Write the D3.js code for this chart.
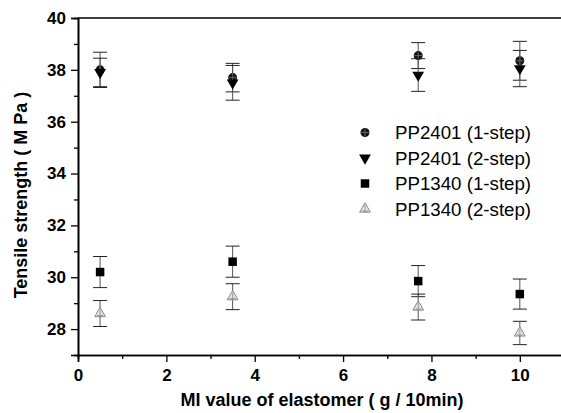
<!DOCTYPE html>
<html>
<head>
<meta charset="utf-8">
<script src="https://cdn.jsdelivr.net/npm/d3@7"></script>
<style>
  body { margin: 0; background: #fff; }
  svg { display: block; }
</style>
</head>
<body>
<svg id="chart" width="561" height="413"></svg>
<script>
// MI value of elastomer (g/10min)
var mi = [0.5, 3.5, 7.7, 10];

var names = ["PP2401 (1-step)", "PP2401 (2-step)", "PP1340 (1-step)", "PP1340 (2-step)"];

// tensile strength (MPa) and error bar half-widths
var pp2401_1 = [38.0, 37.7, 38.55, 38.35];
var pp2401_1_err = [0.68, 0.55, 0.5, 0.75];
var pp2401_2 = [37.9, 37.5, 37.8, 38.05];
var pp2401_2_err = [0.55, 0.67, 0.63, 0.7];
var pp1340_1 = [30.2, 30.6, 29.85, 29.35];
var pp1340_1_err = [0.6, 0.6, 0.6, 0.58];
var pp1340_2 = [28.6, 29.25, 28.85, 27.85];
var pp1340_2_err = [0.5, 0.5, 0.5, 0.45];

var xTicks = [0, 2, 4, 6, 8, 10];
var yTicks = [28, 30, 32, 34, 36, 38, 40];

var svg = d3.select("#chart"),
    mLeft = 78, mTop = 18, mRight = 564, mBottom = 355;

var x = d3.scaleLinear().domain([0, 11]).range([mLeft, mRight]);
var y = d3.scaleLinear().domain([27, 40]).range([mBottom, mTop]);

var series = [
  {name: names[0], v: pp2401_1, e: pp2401_1_err, shape: "circ"},
  {name: names[1], v: pp2401_2, e: pp2401_2_err, shape: "down"},
  {name: names[2], v: pp1340_1, e: pp1340_1_err, shape: "sq"},
  {name: names[3], v: pp1340_2, e: pp1340_2_err, shape: "up"}
];

var font = "Liberation Sans, Arial, sans-serif";

// axes
svg.append("g")
  .attr("transform", "translate(0," + mBottom + ")")
  .call(d3.axisBottom(x).tickValues(xTicks).tickSize(7).tickPadding(7).tickFormat(d3.format("d")));
svg.append("g")
  .attr("transform", "translate(0," + mBottom + ")")
  .call(d3.axisBottom(x).tickValues([1, 3, 5, 7, 9]).tickSize(4).tickFormat(""));

svg.append("g")
  .attr("transform", "translate(" + mLeft + ",0)")
  .call(d3.axisLeft(y).tickValues(yTicks).tickSize(7).tickPadding(5).tickFormat(d3.format("d")));
svg.append("g")
  .attr("transform", "translate(" + mLeft + ",0)")
  .call(d3.axisLeft(y).tickValues([29, 31, 33, 35, 37, 39]).tickSize(4).tickFormat(""));

svg.selectAll(".domain").style("stroke", "#000").style("stroke-width", 1.6);
svg.selectAll(".tick line").style("stroke", "#000").style("stroke-width", 1.3);
svg.selectAll(".tick text")
  .style("font-family", font)
  .style("font-weight", "bold")
  .style("font-size", "17px")
  .style("fill", "#000");

// top frame line
svg.append("line")
  .attr("x1", mLeft).attr("x2", 561)
  .attr("y1", y(40)).attr("y2", y(40))
  .style("stroke", "#000").style("stroke-width", 1.6);

// axis titles
svg.append("text")
  .attr("x", 322).attr("y", 406)
  .attr("text-anchor", "middle")
  .style("font-family", font)
  .style("font-weight", "bold")
  .style("font-size", "18px")
  .text("MI value of elastomer ( g / 10min)");

svg.append("text")
  .attr("transform", "translate(27,195) rotate(-90)")
  .attr("text-anchor", "middle")
  .style("font-family", font)
  .style("font-weight", "bold")
  .style("font-size", "18px")
  .text("Tensile strength ( M Pa )");

function drawMarker(g, shape) {
  if (shape == "circ") {
    g.append("circle").attr("r", 4.5).style("fill", "#111");
    g.append("path").attr("d", "M-4,0H4M0,-4V4").style("stroke", "#777").style("stroke-width", 0.8);
  } else if (shape == "down") {
    g.append("path").attr("d", d3.symbol().type(d3.symbolTriangle).size(60)).attr("transform", "rotate(180)").style("fill", "#000");
  } else if (shape == "sq") {
    g.append("path").attr("d", d3.symbol().type(d3.symbolSquare).size(72)).style("fill", "#000");
  } else {
    g.append("path").attr("d", d3.symbol().type(d3.symbolTriangle).size(50))
      .style("fill", "#e4e4e4").style("stroke", "#888").style("stroke-width", 1);
    g.append("path").attr("d", "M0,-4V4M-3,2H3").style("stroke", "#888").style("stroke-width", 0.8);
  }
}

// error bars and points
series.forEach(function(s) {
  var g = svg.append("g");
  var pts = mi.map(function(m, i) { return {x: m, v: s.v[i], e: s.e[i]}; });
  g.selectAll(".eb")
    .data(pts).enter().append("line")
    .attr("x1", function(d) { return x(d.x); })
    .attr("x2", function(d) { return x(d.x); })
    .attr("y1", function(d) { return y(d.v - d.e); })
    .attr("y2", function(d) { return y(d.v + d.e); })
    .style("stroke", "#555").style("stroke-width", 1);
  [-1, 1].forEach(function(sg) {
    g.selectAll(".cap" + sg)
      .data(pts).enter().append("line")
      .attr("x1", function(d) { return x(d.x) - 7; })
      .attr("x2", function(d) { return x(d.x) + 7; })
      .attr("y1", function(d) { return y(d.v + sg * d.e); })
      .attr("y2", function(d) { return y(d.v + sg * d.e); })
      .style("stroke", "#222").style("stroke-width", 1);
  });
  pts.forEach(function(d) {
    var m = g.append("g").attr("transform", "translate(" + x(d.x) + "," + y(d.v) + ")");
    drawMarker(m, s.shape);
  });
});

// legend
var leg = svg.append("g");
series.forEach(function(s, i) {
  var ly = 132.5 + i * 25.5;
  var m = leg.append("g").attr("transform", "translate(365," + ly + ")");
  drawMarker(m, s.shape);
  leg.append("text")
    .attr("x", 395).attr("y", ly + 6.5)
    .style("font-family", font)
    .style("font-size", "18.7px")
    .text(s.name);
});
</script>
</body>
</html>
